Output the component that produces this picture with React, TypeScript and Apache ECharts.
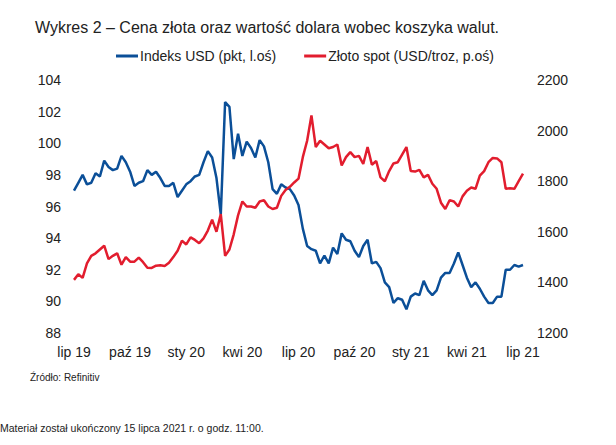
import React, { useEffect, useRef } from "react";
import * as echarts from "echarts";

const xLabels = ["lip 19", "paź 19", "sty 20", "kwi 20", "lip 20", "paź 20", "sty 21", "kwi 21", "lip 21"];
const leftTicks = [88, 104, 2];
const rightTicks = [1200, 2200, 200];

// Indeks USD, weekly from mid-July 2019 (left axis)
const usd = [
  97.0, 97.5, 98.0, 97.4, 97.5, 98.1, 97.9, 98.9, 98.5, 98.3,
  98.4, 99.2, 98.8, 98.2, 97.3, 97.5, 97.6, 98.3, 98.0, 98.2,
  97.8, 97.3, 97.3, 97.5, 96.6, 97.0, 97.4, 97.6, 97.9, 98.0,
  98.8, 99.5, 99.1, 97.8, 95.5, 102.6, 102.3, 99.0, 100.6, 99.2,
  100.1, 99.7, 99.1, 100.2, 99.8, 98.8, 97.1, 96.8, 97.4, 97.2,
  97.1, 96.7, 96.1, 94.6, 93.5, 93.3, 93.2, 92.4, 92.9, 92.4,
  93.4, 93.0, 94.3, 93.9, 93.8, 93.2, 92.8, 93.5, 93.9, 92.4,
  92.5, 92.1, 91.2, 90.9, 89.9, 90.2, 90.1, 89.5, 90.3, 90.5,
  90.4, 91.3, 90.7, 90.4, 90.7, 91.5, 91.8, 91.8, 92.4, 93.1,
  92.3, 91.5, 90.9, 91.2, 90.8, 90.3, 89.9, 89.9, 90.3, 90.3,
  92.0, 92.0, 92.3, 92.2, 92.3,
];

// Złoto spot USD/troz (right axis)
const gold = [
  1410, 1432, 1418, 1475, 1505, 1515, 1530, 1545, 1492, 1505,
  1515, 1470, 1500, 1482, 1482, 1498, 1480, 1458, 1457, 1466,
  1468, 1465, 1478, 1500, 1525, 1565, 1550, 1578, 1568, 1555,
  1574, 1605, 1648, 1600, 1670, 1505, 1530, 1590, 1665, 1720,
  1700, 1700, 1695, 1720, 1725, 1700, 1690, 1695, 1742, 1765,
  1778, 1795, 1810, 1895, 1960, 2060, 1935, 1960, 1945, 1930,
  1935, 1945, 1862, 1895, 1915, 1895, 1900, 1868, 1935, 1865,
  1880, 1815, 1800, 1840, 1870, 1875, 1905, 1935, 1840, 1838,
  1845, 1815, 1825, 1790, 1770, 1715, 1690, 1725, 1720, 1700,
  1740, 1762, 1775, 1770, 1822, 1840, 1875, 1892, 1890, 1875,
  1770, 1772, 1770, 1800, 1830,
];

const BLUE = "#0b4f98";
const RED = "#e21d2e";
const TXT = "#222222";
const FONT = "'Liberation Sans', Arial, sans-serif";

export default function App() {
  const ref = useRef<HTMLDivElement>(null);
  useEffect(() => {
    if (!ref.current) return;
    const chart = echarts.init(ref.current, undefined, { renderer: "svg" });
    const start = new Date(Date.UTC(2019, 6, 15));
    const cats = usd.map((_, i) => {
      const d = new Date(start.getTime() + i * 7 * 86400000);
      return d.toISOString().slice(0, 10);
    });
    chart.setOption({
      animation: false,
      backgroundColor: "#ffffff",
      title: {
        text: "Wykres 2 – Cena złota oraz wartość dolara wobec koszyka walut.",
        left: 30,
        top: 14,
        textStyle: { fontFamily: FONT, fontSize: 16, fontWeight: "normal", color: TXT },
      },
      legend: {
        left: 111,
        top: 44,
        icon: "rect",
        itemWidth: 22,
        itemHeight: 3,
        itemGap: 28,
        textStyle: { fontFamily: FONT, fontSize: 14, color: TXT, padding: [0, 0, 0, -3] },
        data: ["Indeks USD (pkt, l.oś)", "Złoto spot (USD/troz, p.oś)"],
      },
      grid: { left: 74, right: 93, top: 80, bottom: 112 },
      xAxis: {
        type: "category",
        data: cats,
        boundaryGap: false,
        axisLine: { show: false },
        axisTick: { show: false },
        splitLine: { show: false },
        axisLabel: {
          interval: 12,
          margin: 12,
          fontFamily: FONT,
          fontSize: 14,
          color: TXT,
          formatter: (_v: string, idx: number) => xLabels[Math.round(idx / 13)] ?? "",
        },
      },
      yAxis: [
        {
          type: "value",
          min: leftTicks[0],
          max: leftTicks[1],
          interval: leftTicks[2],
          axisLine: { show: false },
          axisTick: { show: false },
          splitLine: { show: false },
          axisLabel: { margin: 13, fontFamily: FONT, fontSize: 14, color: TXT, formatter: (v: number) => String(v) },
        },
        {
          type: "value",
          min: rightTicks[0],
          max: rightTicks[1],
          interval: rightTicks[2],
          position: "right",
          axisLine: { show: false },
          axisTick: { show: false },
          splitLine: { show: false },
          axisLabel: { margin: 14, fontFamily: FONT, fontSize: 14, color: TXT, formatter: (v: number) => String(v) },
        },
      ],
      series: [
        {
          name: "Indeks USD (pkt, l.oś)",
          type: "line",
          data: usd,
          yAxisIndex: 0,
          showSymbol: false,
          lineStyle: { color: BLUE, width: 2.5 },
          itemStyle: { color: BLUE },
          z: 2,
        },
        {
          name: "Złoto spot (USD/troz, p.oś)",
          type: "line",
          data: gold,
          yAxisIndex: 1,
          showSymbol: false,
          lineStyle: { color: RED, width: 2.5 },
          itemStyle: { color: RED },
          z: 3,
        },
      ],
      graphic: [
        {
          type: "text",
          left: 30,
          top: 372,
          style: { text: "Źródło: Refinitiv", fontFamily: FONT, fontSize: 10, fill: TXT },
        },
        {
          type: "text",
          left: 0,
          top: 422,
          style: {
            text: "Materiał został ukończony 15 lipca 2021 r. o godz. 11:00.",
            fontFamily: FONT,
            fontSize: 10.5,
            fill: TXT,
          },
        },
      ],
    });
    return () => chart.dispose();
  }, []);
  return (
    <div
      ref={ref}
      style={{ position: "absolute", left: 0, top: 0, width: 616, height: 445 }}
    />
  );
}
